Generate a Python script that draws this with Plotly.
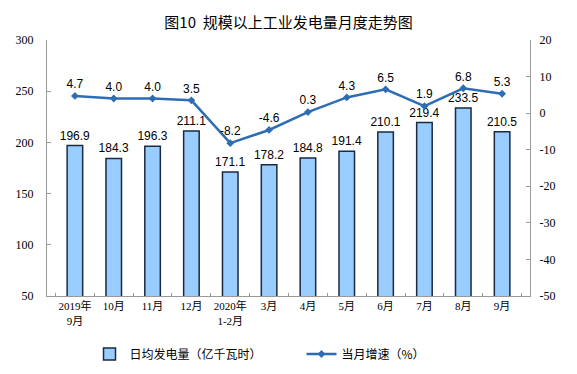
import plotly.graph_objects as go

categories = ["2019年<br>9月", "10月", "11月", "12月", "2020年<br>1-2月", "3月", "4月", "5月", "6月", "7月", "8月", "9月"]
daily_output = [196.9, 184.3, 196.3, 211.1, 171.1, 178.2, 184.8, 191.4, 210.1, 219.4, 233.5, 210.5]
growth = [4.7, 4.0, 4.0, 3.5, -8.2, -4.6, 0.3, 4.3, 6.5, 1.9, 6.8, 5.3]
left_ticks = [50, 100, 150, 200, 250, 300]
right_ticks = [-50, -40, -30, -20, -10, 0, 10, 20]

num_font = "Times New Roman, Liberation Serif, Noto Sans CJK SC"
cjk_font = "Noto Sans CJK SC, sans-serif"
label_font = "Arial, Liberation Sans, sans-serif"

fig = go.Figure()
fig.add_trace(go.Bar(
    x=categories, y=daily_output, name="日均发电量（亿千瓦时）",
    marker=dict(color="#99CCFF", line=dict(color="#1A2A40", width=1.5)),
    width=0.4,
    text=[f"{v:.1f}" for v in daily_output], textposition="outside",
    constraintext="none",
    textfont=dict(family=label_font, size=12, color="#000000"),
    cliponaxis=False,
))
fig.add_trace(go.Scatter(
    x=categories, y=growth, name="当月增速（%）", yaxis="y2",
    mode="lines+markers+text",
    line=dict(color="#2E6DB4", width=2.5),
    marker=dict(symbol="diamond", size=6, color="#2E6DB4"),
    text=[f"{v:.1f}" for v in growth], textposition="top center",
    textfont=dict(family=label_font, size=12, color="#000000"),
    cliponaxis=False,
))

fig.update_layout(
    width=577, height=374,
    margin=dict(l=47, r=47, t=40, b=78, autoexpand=False),
    paper_bgcolor="white", plot_bgcolor="white",
    title=dict(text="图10  规模以上工业发电量月度走势图", x=0.5, xanchor="center",
               y=0.94, yanchor="middle",
               font=dict(family=cjk_font, size=15, color="#000000")),
    showlegend=True,
    legend=dict(orientation="h", x=0.088, xanchor="left", y=-0.17, yanchor="top",
                font=dict(family=cjk_font, size=12, color="#000000"),
                entrywidth=167, traceorder="normal"),
    xaxis=dict(
        automargin=False, tickangle=0,
        showline=True, linecolor="#999999", linewidth=1,
        ticks="inside", ticklen=3, tickcolor="#999999", tickson="boundaries",
        showgrid=False,
        tickfont=dict(family=num_font + ", serif", size=11, color="#000000"),
    ),
    yaxis=dict(
        automargin=False,
        range=[50, 300], tickvals=left_ticks, showgrid=False,
        showline=True, linecolor="#999999", linewidth=1,
        ticks="inside", ticklen=4, tickcolor="#999999",
        ticklabelstandoff=10,
        tickfont=dict(family=num_font, size=12, color="#000000"),
        zeroline=False,
    ),
    yaxis2=dict(
        automargin=False,
        range=[-50, 20], tickvals=right_ticks, ticktext=[str(v) for v in right_ticks],
        overlaying="y", side="right",
        showgrid=False, showline=True, linecolor="#999999", linewidth=1,
        ticks="inside", ticklen=4, tickcolor="#999999",
        ticklabelstandoff=6,
        tickfont=dict(family=num_font, size=12, color="#000000"),
        zeroline=False,
    ),
)

fig.write_html("out.html", config={"displayModeBar": False},
               post_script="document.body.style.margin='0';")
